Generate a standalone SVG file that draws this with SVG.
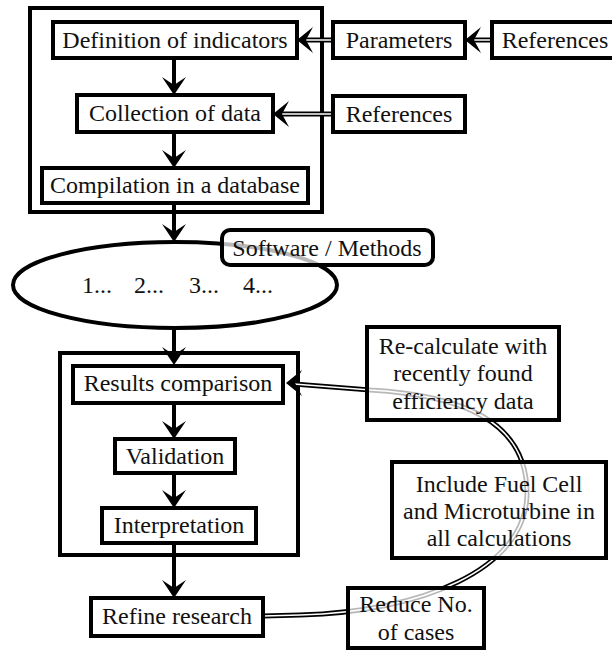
<svg xmlns="http://www.w3.org/2000/svg" width="612" height="650" viewBox="0 0 612 650">
<style>
.box{fill:#fff;stroke:#000;stroke-width:4}
.tbox{fill:#fff;fill-opacity:0.72;stroke:#000;stroke-width:4}
.frame{fill:none;stroke:#000;stroke-width:4}
.t{font-family:'Liberation Serif','Times New Roman','DejaVu Serif',serif;font-size:24px;fill:#111;text-anchor:middle}
.v{stroke:#000;stroke-width:4;fill:none}
.dbo{stroke:#000;stroke-width:5;fill:none}
.dbi{stroke:#fff;stroke-width:1.5;fill:none}
.ah{fill:#000}
</style>
<defs>
<path id="hd" d="M0,0 L-12,-18 L0,-10 L12,-18 Z"/>
<path id="hl" d="M0,0 L16,-13 L9,0 L16,13 Z"/>
</defs>

<rect class="frame" x="30" y="8" width="292" height="204"/>
<rect class="frame" x="60" y="353" width="238" height="202"/>

<g id="connectors">
  <line class="v" x1="174" y1="58" x2="174" y2="86"/>
  <use href="#hd" class="ah" x="174" y="95"/>
  <line class="v" x1="174" y1="132" x2="174" y2="159"/>
  <use href="#hd" class="ah" x="174" y="168"/>
  <line class="v" x1="174" y1="203" x2="174" y2="233"/>
  <use href="#hd" class="ah" x="174" y="242"/>
  <line class="v" x1="174" y1="328" x2="174" y2="356"/>
  <use href="#hd" class="ah" x="174" y="365"/>
  <line class="v" x1="174" y1="403" x2="174" y2="430"/>
  <use href="#hd" class="ah" x="174" y="439"/>
  <line class="v" x1="174" y1="473" x2="174" y2="499"/>
  <use href="#hd" class="ah" x="174" y="508"/>
  <line class="v" x1="174" y1="543" x2="174" y2="589"/>
  <use href="#hd" class="ah" x="174" y="598"/>

  <line class="dbo" x1="333" y1="40" x2="305" y2="40"/>
  <line class="dbi" x1="333" y1="40" x2="305" y2="40"/>
  <use href="#hl" class="ah" x="297" y="40"/>
  <line class="dbo" x1="492" y1="40" x2="473" y2="40"/>
  <line class="dbi" x1="492" y1="40" x2="473" y2="40"/>
  <use href="#hl" class="ah" x="465" y="40"/>
  <line class="dbo" x1="333" y1="114" x2="281" y2="114"/>
  <line class="dbi" x1="333" y1="114" x2="281" y2="114"/>
  <use href="#hl" class="ah" x="273" y="114"/>

  <path class="dbo" d="M263,616 L300,615 C420,612 525,570 527,495 C528,420 460,395 370,390 L294,384"/>
  <path class="dbi" d="M263,616 L300,615 C420,612 525,570 527,495 C528,420 460,395 370,390 L294,384"/>
  <use href="#hl" class="ah" x="286" y="383"/>
</g>

<g id="n-def"><rect class="box" x="53" y="22" width="244" height="36"/><text class="t" x="175" y="48">Definition of indicators</text></g>
<g id="n-coll"><rect class="box" x="77" y="95" width="196" height="37"/><text class="t" x="175" y="121">Collection of data</text></g>
<g id="n-comp"><rect class="box" x="42" y="168" width="266" height="35"/><text class="t" x="175" y="193">Compilation in a database</text></g>
<g id="n-param"><rect class="box" x="333" y="22" width="132" height="36"/><text class="t" x="399" y="48">Parameters</text></g>
<g id="n-ref1"><rect class="box" x="492" y="22" width="122" height="36"/><text class="t" x="555" y="48">References</text></g>
<g id="n-ref2"><rect class="box" x="333" y="96" width="132" height="36"/><text class="t" x="399" y="122">References</text></g>

<g id="n-methods">
  <ellipse cx="175" cy="285" rx="162" ry="43" fill="#fff" stroke="#000" stroke-width="4"/>
  <text class="t" x="97" y="293">1...</text>
  <text class="t" x="149" y="293">2...</text>
  <text class="t" x="204" y="293">3...</text>
  <text class="t" x="258" y="293">4...</text>
</g>
<g id="n-soft"><rect class="tbox" x="222" y="230" width="211" height="35" rx="8"/><text class="t" x="327" y="256">Software / Methods</text></g>

<g id="n-res"><rect class="box" x="73" y="366" width="210" height="37"/><text class="t" x="178" y="391">Results comparison</text></g>
<g id="n-val"><rect class="box" x="115" y="439" width="120" height="34"/><text class="t" x="175" y="464">Validation</text></g>
<g id="n-int"><rect class="box" x="102" y="508" width="154" height="35"/><text class="t" x="179" y="533">Interpretation</text></g>
<g id="n-ref"><rect class="box" x="91" y="598" width="172" height="38"/><text class="t" x="177" y="624">Refine research</text></g>

<g id="n-recalc"><rect class="tbox" x="367" y="327" width="192" height="93"/>
  <text class="t" x="463" y="354">Re-calculate with</text>
  <text class="t" x="463" y="381">recently found</text>
  <text class="t" x="463" y="409">efficiency data</text></g>
<g id="n-incl"><rect class="tbox" x="392" y="462" width="214" height="96"/>
  <text class="t" x="499" y="492">Include Fuel Cell</text>
  <text class="t" x="499" y="519">and Microturbine in</text>
  <text class="t" x="499" y="546">all calculations</text></g>
<g id="n-red"><rect class="tbox" x="348" y="588" width="136" height="60"/>
  <text class="t" x="416" y="612">Reduce No.</text>
  <text class="t" x="416" y="640">of cases</text></g>
</svg>
